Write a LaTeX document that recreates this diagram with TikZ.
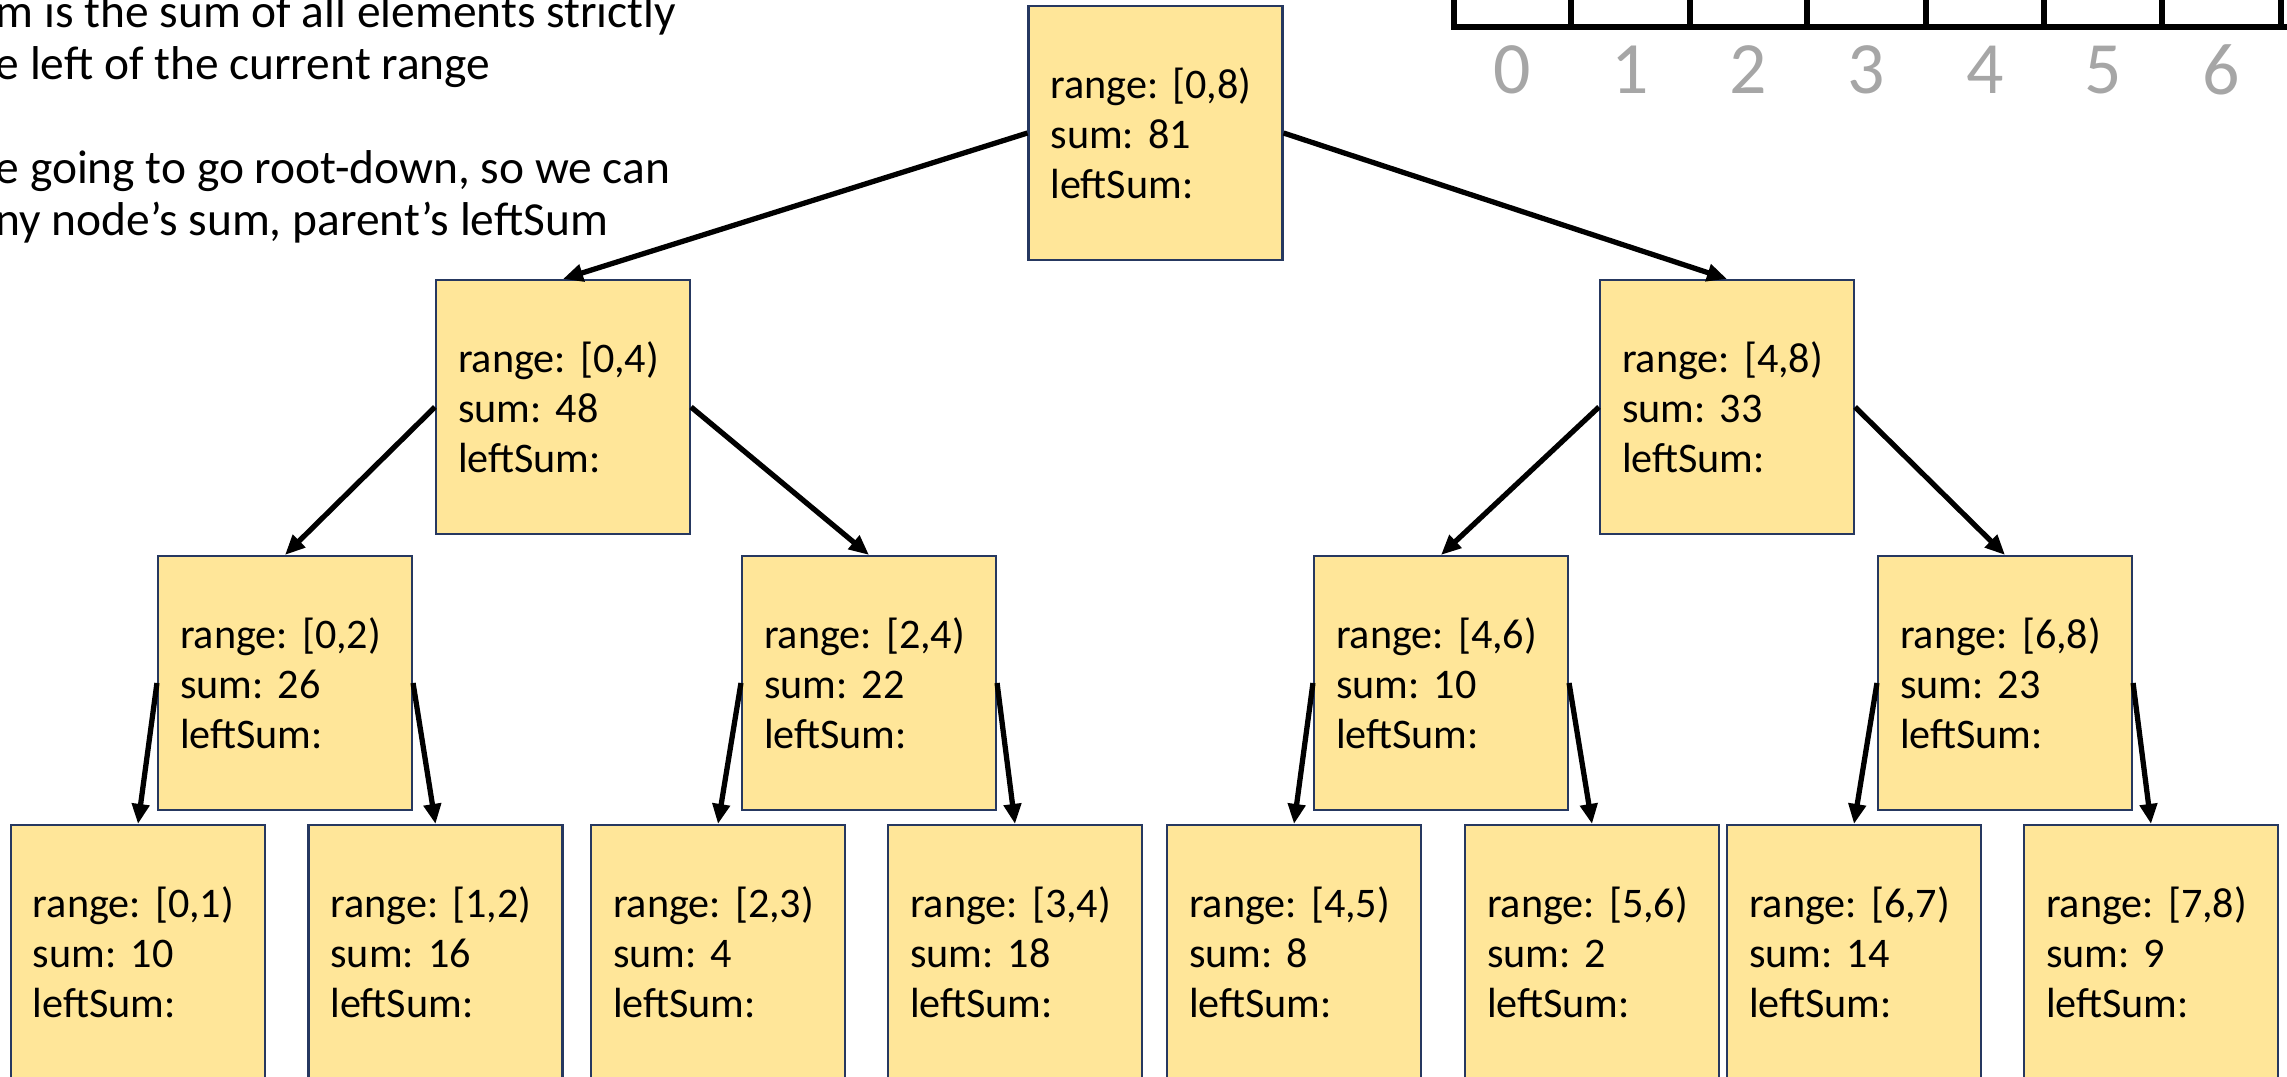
\documentclass[tikz,border=0pt]{standalone}
\usepackage{fontspec}
\setmainfont{Carlito}
\usetikzlibrary{arrows.meta}
\definecolor{boxfill}{RGB}{255,230,153}
\definecolor{boxline}{RGB}{38,56,96}
\definecolor{idxgray}{RGB}{166,166,166}
\frenchspacing

\begin{document}
\begin{tikzpicture}[
  seg/.style={draw=boxline,line width=0.6pt,fill=boxfill,minimum width=2.54cm,minimum height=2.54cm,text width=2.10cm,inner sep=0pt,align=left,font=\fontsize{12}{14.3}\selectfont},
  link/.style={line width=1.5pt,-{Triangle[length=0.2cm,width=0.17cm]}},
  note/.style={anchor=base west,inner sep=0pt,font=\fontsize{13.5}{15}\selectfont},
  idx/.style={text=idxgray,inner sep=0pt,font=\fontsize{21}{25}\selectfont}
]
\useasboundingbox (0,0) rectangle (22.87,-10.76);

\node[note] (t1) at (-0.05,-0.27) {m is the sum of all elements strictly};
\node[note] (t2) at (-0.05,-0.79) {e left of the current range};
\node[note] (t3) at (-0.05,-1.83) {e going to go root-down, so we can};
\node[note] (t4) at (-0.05,-2.35) {ny node’s sum, parent’s leftSum};

\draw[line width=1.7pt] (14.54,0) -- (14.54,-0.27) -- (22.87,-0.27);
\draw[line width=1.7pt] (15.71,0) -- (15.71,-0.27) (16.90,0) -- (16.90,-0.27) (18.07,0) -- (18.07,-0.27)
  (19.26,0) -- (19.26,-0.27) (20.44,0) -- (20.44,-0.27) (21.62,0) -- (21.62,-0.27) (22.81,0) -- (22.81,-0.27);

\node[idx] (a0) at (15.125,-0.70) {0};
\node[idx] (a1) at (16.305,-0.70) {1};
\node[idx] (a2) at (17.485,-0.70) {2};
\node[idx] (a3) at (18.665,-0.70) {3};
\node[idx] (a4) at (19.85,-0.70) {4};
\node[idx] (a5) at (21.03,-0.70) {5};
\node[idx] (a6) at (22.215,-0.70) {6};

\node[seg] (01) at (11.555,-1.33) {range: [0,8)\\sum: 81\\leftSum:};

\node[seg] (11) at (5.63,-4.07) {range: [0,4)\\sum: 48\\leftSum:};
\node[seg] (12) at (17.27,-4.07) {range: [4,8)\\sum: 33\\leftSum:};

\node[seg] (21) at (2.85,-6.83) {range: [0,2)\\sum: 26\\leftSum:};
\node[seg] (22) at (8.69,-6.83) {range: [2,4)\\sum: 22\\leftSum:};
\node[seg] (23) at (14.41,-6.83) {range: [4,6)\\sum: 10\\leftSum:};
\node[seg] (24) at (20.05,-6.83) {range: [6,8)\\sum: 23\\leftSum:};

\node[seg] (31) at (1.38,-9.52) {range: [0,1)\\sum: 10\\leftSum:};
\node[seg] (32) at (4.355,-9.52) {range: [1,2)\\sum: 16\\leftSum:};
\node[seg] (33) at (7.18,-9.52) {range: [2,3)\\sum: 4\\leftSum:};
\node[seg] (34) at (10.15,-9.52) {range: [3,4)\\sum: 18\\leftSum:};
\node[seg] (35) at (12.94,-9.52) {range: [4,5)\\sum: 8\\leftSum:};
\node[seg] (36) at (15.92,-9.52) {range: [5,6)\\sum: 2\\leftSum:};
\node[seg] (37) at (18.54,-9.52) {range: [6,7)\\sum: 14\\leftSum:};
\node[seg] (38) at (21.51,-9.52) {range: [7,8)\\sum: 9\\leftSum:};

\draw[link] (01.west) -- (11.north);
\draw[link] (01.east) -- (12.north);
\draw[link] (11.west) -- (21.north);
\draw[link] (11.east) -- (22.north);
\draw[link] (12.west) -- (23.north);
\draw[link] (12.east) -- (24.north);
\draw[link] (21.west) -- (31.north);
\draw[link] (21.east) -- (32.north);
\draw[link] (22.west) -- (33.north);
\draw[link] (22.east) -- (34.north);
\draw[link] (23.west) -- (35.north);
\draw[link] (23.east) -- (36.north);
\draw[link] (24.west) -- (37.north);
\draw[link] (24.east) -- (38.north);
\end{tikzpicture}
\end{document}
